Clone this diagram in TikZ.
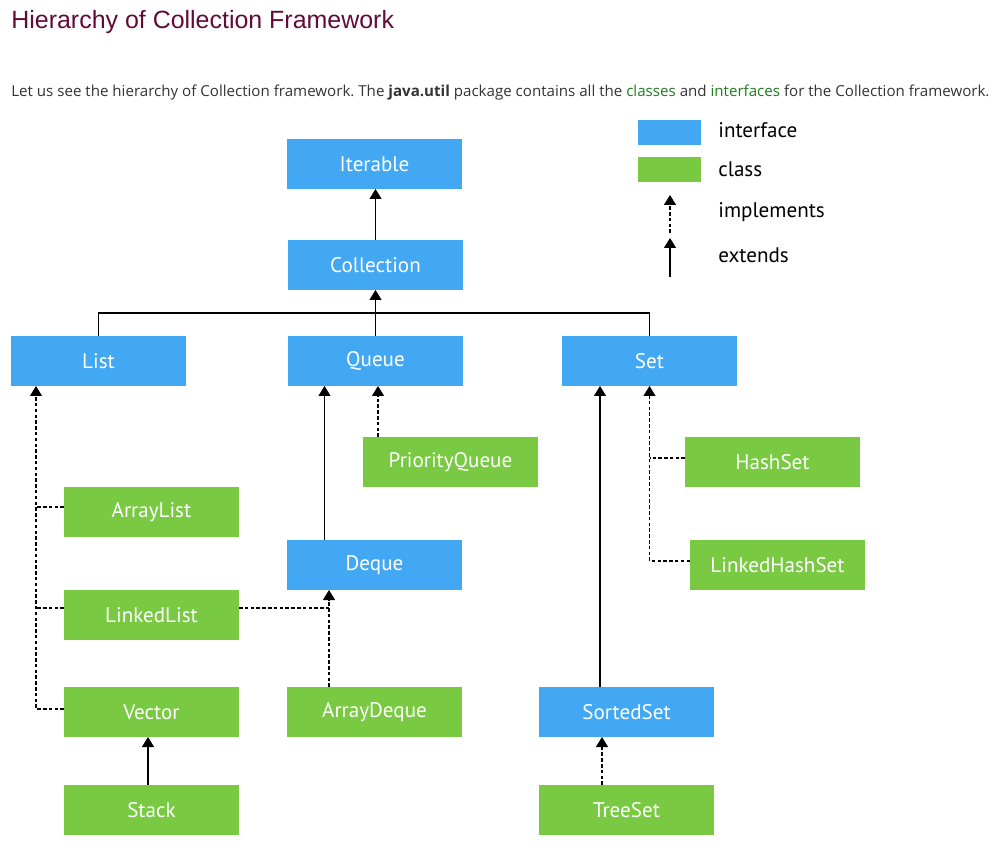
\documentclass[tikz,border=0pt]{standalone}
\usepackage{fontspec}
\setmainfont{Open Sans}
\newfontfamily\boxfont{PT Sans}
\newfontfamily\titlefont{Liberation Sans}
\usetikzlibrary{positioning,arrows.meta}
\definecolor{ifaceblue}{HTML}{42A8F4}
\definecolor{classgreen}{HTML}{7AC943}
\definecolor{titlered}{HTML}{610B38}
\definecolor{linkgreen}{HTML}{1E7B1E}
\frenchspacing

\begin{document}
\begin{tikzpicture}[
  iface/.style={rectangle, minimum width=3.5cm, minimum height=1cm, inner sep=0pt, outer sep=0pt, fill=ifaceblue, text=white, font=\boxfont\fontsize{12}{14}\selectfont},
  cls/.style={iface, fill=classgreen},
  keytext/.style={anchor=base west, inner sep=0pt, font=\boxfont\fontsize{12}{14}\selectfont},
  link/.style={line width=0.7pt},
  ext/.style={link, -{Triangle[width=0.24cm,length=0.2cm]}},
  impl/.style={ext, dash pattern=on 2pt off 1.3pt},
  stub/.style={link, dash pattern=on 2pt off 1.3pt}
]
\useasboundingbox (0,0) rectangle (19.9,-16.9);

% Heading and intro line
\node[anchor=base west, inner sep=0pt, text=titlered, font=\titlefont\fontsize{14.2}{16}\selectfont] (title) at (0.22,-0.58) {Hierarchy of Collection Framework};
\node[anchor=base west, inner sep=0pt, text=black!80, font=\fontsize{8.6}{11}\selectfont] (intro) at (0.22,-1.94) {Let us see the hierarchy of Collection framework. The \textbf{java.util} package contains all the \textcolor{linkgreen}{classes} and \textcolor{linkgreen}{interfaces} for the Collection framework.};

% Legend
\node[iface, minimum width=1.26cm, minimum height=0.5cm] (key-iface) at (13.39,-2.65) {};
\node[cls, minimum width=1.26cm, minimum height=0.5cm] (key-class) at (13.39,-3.40) {};
\node[keytext] (key-iface-text) at (14.36,-2.76) {interface};
\node[keytext] (key-class-text) at (14.36,-3.54) {class};
\node[keytext] (key-impl-text) at (14.36,-4.36) {implements};
\node[keytext] (key-ext-text) at (14.36,-5.26) {extends};
\coordinate (key-impl-from) at (13.4,-4.66);
\coordinate (key-impl-to) at (13.4,-3.9);
\coordinate (key-ext-from) at (13.4,-5.54);
\coordinate (key-ext-to) at (13.4,-4.76);
\draw[impl] (key-impl-from) -- (key-impl-to);
\draw[ext] (key-ext-from) -- (key-ext-to);

% Top - Iterable and Collection
\node[iface] (iterable) at (7.49,-3.28) {Iterable};
\node[iface, below=1.02cm of iterable, xshift=0.02cm] (collection) {Collection};

% Second level - List, Queue, Set
\node[iface, below=0.92cm of collection] (queue) {Queue};
\node[iface, left=2.04cm of queue] (list) {List};
\node[iface, right=1.98cm of queue] (set) {Set};

% Queue branch
\node[cls, below=1.02cm of queue, xshift=1.5cm] (priority-queue) {PriorityQueue};
\node[iface, below=3.08cm of queue, xshift=-0.02cm] (deque) {Deque};
\node[cls, below=1.94cm of deque] (array-deque) {ArrayDeque};

% List branch
\node[cls, below=2.02cm of list, xshift=1.06cm] (array-list) {ArrayList};
\node[cls, below=1.06cm of array-list] (linked-list) {LinkedList};
\node[cls, below=0.94cm of linked-list] (vector) {Vector};
\node[cls, below=0.96cm of vector] (stack) {Stack};

% Set branch
\node[cls, below=1.02cm of set, xshift=2.46cm] (hash-set) {HashSet};
\node[cls, below=1.06cm of hash-set, xshift=0.1cm] (linked-hash-set) {LinkedHashSet};
\node[iface, below=6.02cm of set, xshift=-0.46cm] (sorted-set) {SortedSet};
\node[cls, below=0.96cm of sorted-set] (tree-set) {TreeSet};

% Extends arrows
\draw[ext] (collection.north) -- (collection.north |- iterable.south);
\draw[ext] (queue.north) -- (queue.north |- collection.south);
\draw[link] (list.north) -- ++(0,0.46) -| (set.north);
\draw[ext] ([xshift=-1cm]deque.north) -- ([xshift=-1cm]deque.north |- queue.south);
\draw[ext] ([xshift=-0.07cm]stack.north) -- ([xshift=-0.07cm]vector.south);
\draw[ext] ([xshift=-0.53cm]sorted-set.north) -- ([xshift=-0.53cm]sorted-set.north |- set.south);

% Implements arrows
\draw[impl] ([xshift=0.3cm]priority-queue.north west) -- ([xshift=0.3cm]priority-queue.north west |- queue.south);
\draw[impl] ([xshift=-0.49cm]tree-set.north) -- ([xshift=-0.49cm]sorted-set.south);

\coordinate (list-rail) at ([xshift=0.5cm]list.south west);
\draw[impl] ([yshift=0.06cm]vector.west) -| (list-rail);
\draw[stub] ([yshift=0.1cm]array-list.west) -- ([yshift=0.1cm]array-list.west -| list-rail);
\draw[stub] ([yshift=0.14cm]linked-list.west) -- ([yshift=0.14cm]linked-list.west -| list-rail);

\coordinate (deque-rail) at ([xshift=-0.91cm]array-deque.north);
\draw[impl] (deque-rail) -- (deque-rail |- deque.south);
\draw[stub] ([yshift=0.14cm]linked-list.east) -- ([yshift=0.14cm]linked-list.east -| deque-rail);

\draw[impl] ([yshift=0.08cm]linked-hash-set.west) -| (set.south);
\draw[stub] ([yshift=0.08cm]hash-set.west) -- ([yshift=0.08cm]hash-set.west -| set.south);

\end{tikzpicture}
\end{document}
